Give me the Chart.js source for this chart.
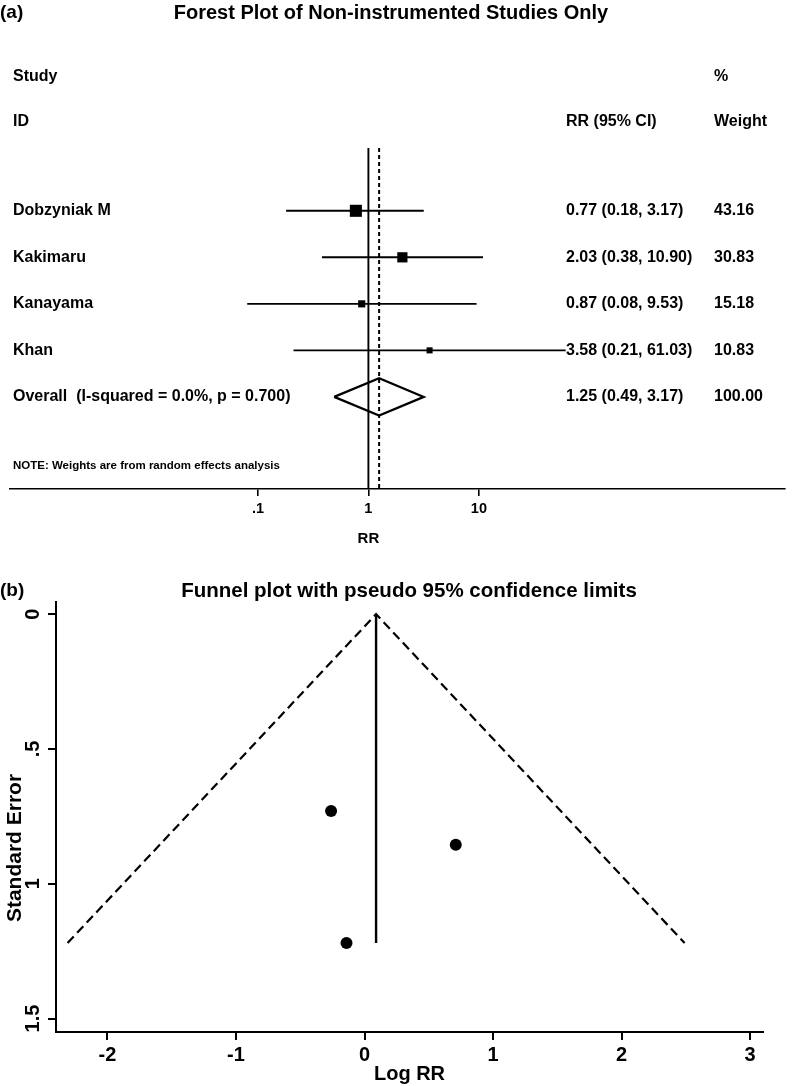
<!DOCTYPE html>
<html>
<head>
<meta charset="utf-8">
<title>Forest plot and funnel plot</title>
<script src="https://cdn.jsdelivr.net/npm/chart.js@4.4.0/dist/chart.umd.min.js"></script>
<style>
  html, body { margin: 0; padding: 0; background: #fff; }
  #wrap { position: relative; width: 797px; height: 1086px; }
  canvas { position: absolute; left: 0; }
  #forestCanvas { top: 0; }
  #funnelCanvas { top: 560px; }
</style>
</head>
<body>
<div id="wrap">
  <canvas id="forestCanvas" width="797" height="560"></canvas>
  <canvas id="funnelCanvas" width="797" height="526"></canvas>
</div>
<script>
// --- forest plot data
var studies = ['Dobzyniak M', 'Kakimaru', 'Kanayama', 'Khan'];
var rr = [0.77, 2.03, 0.87, 3.58];
var rrLow = [0.18, 0.38, 0.08, 0.21];
var rrHigh = [3.17, 10.90, 9.53, 61.03];
var weights = [43.16, 30.83, 15.18, 10.83];
var overallLabel = 'Overall  (I-squared = 0.0%, p = 0.700)';
var overallRR = 1.25;
var overallLow = 0.49;
var overallHigh = 3.17;
var overallWeight = 100.00;
var forestTicks = [0.1, 1, 10];
var forestTickLabels = ['.1', '1', '10'];

// --- funnel plot data
var funnelLogRR = [-0.26, 0.71, -0.14];
var funnelSE = [0.73, 0.855, 1.22];
var pooledLogRR = 0.09;
var limitLogRR = [-2.31, 0.09, 2.49];
var limitSE = [1.22, 0, 1.22];
var funnelXTicks = [-2, -1, 0, 1, 2, 3];
var funnelYTicks = [0, 0.5, 1, 1.5];
var funnelYTickLabels = ['0', '.5', '1', '1.5'];

var FONT = "'Liberation Sans', Arial, Helvetica, sans-serif";
Chart.defaults.font.family = FONT;
Chart.defaults.color = '#000';

function fmt(v) { return v.toFixed(2); }

// ---------- forest plot ----------
var rowTop = -0.35, rowBottom = 6.98;
var forestSets = [];

// boxes, area follows weight
forestSets.push({
  data: studies.map(function (s, i) { return { x: rr[i], y: i + 1 }; }),
  pointStyle: 'rect',
  pointRadius: weights.map(function (w) { return Math.sqrt(w) * 1.3; }),
  backgroundColor: '#000', borderColor: '#000', borderWidth: 0,
  showLine: false, order: 0
});
// confidence intervals
studies.forEach(function (s, i) {
  forestSets.push({
    data: [{ x: rrLow[i], y: i + 1 }, { x: rrHigh[i], y: i + 1 }],
    showLine: true, borderColor: '#000', borderWidth: 1.9, pointRadius: 0, order: 1
  });
});
// overall diamond
var ovRow = studies.length + 1;
forestSets.push({
  data: [
    { x: overallLow, y: ovRow }, { x: overallRR, y: ovRow - 0.4 },
    { x: overallHigh, y: ovRow }, { x: overallRR, y: ovRow + 0.4 },
    { x: overallLow, y: ovRow }
  ],
  showLine: true, fill: false, borderColor: '#000', borderWidth: 2.2, pointRadius: 0, order: 1
});
// no-effect line and overall line
forestSets.push({
  data: [{ x: 1, y: rowTop }, { x: 1, y: rowBottom }],
  showLine: true, borderColor: '#000', borderWidth: 1.9, pointRadius: 0, order: 2
});
forestSets.push({
  data: [{ x: overallRR, y: rowTop }, { x: overallRR, y: rowBottom }],
  showLine: true, borderColor: '#000', borderWidth: 2, borderDash: [4, 3], pointRadius: 0, order: 2
});

var forestText = {
  id: 'forestText',
  afterDraw: function (chart) {
    var ctx = chart.ctx;
    var ys = chart.scales.y;
    ctx.save();
    ctx.fillStyle = '#000';
    ctx.textBaseline = 'middle';
    ctx.textAlign = 'left';
    ctx.font = 'bold 19px ' + FONT;
    ctx.fillText('(a)', 0, 13);
    ctx.textAlign = 'center';
    ctx.font = 'bold 20px ' + FONT;
    ctx.fillText('Forest Plot of Non-instrumented Studies Only', 391, 13);
    // axis title sits under the no-effect line
    ctx.font = 'bold 15px ' + FONT;
    ctx.fillText('RR', chart.scales.x.getPixelForValue(1), 539);

    ctx.textAlign = 'left';
    ctx.font = 'bold 16px ' + FONT;
    var yStudy = ys.getPixelForValue(-1.88);
    var yId = ys.getPixelForValue(-0.91);
    ctx.fillText('Study', 13, yStudy);
    ctx.fillText('%', 714, yStudy);
    ctx.fillText('ID', 13, yId);
    ctx.fillText('RR (95% CI)', 566, yId);
    ctx.fillText('Weight', 714, yId);

    studies.forEach(function (s, i) {
      var py = ys.getPixelForValue(i + 1);
      ctx.fillText(s, 13, py);
      ctx.fillText(fmt(rr[i]) + ' (' + fmt(rrLow[i]) + ', ' + fmt(rrHigh[i]) + ')', 566, py);
      ctx.fillText(fmt(weights[i]), 714, py);
    });
    var po = ys.getPixelForValue(ovRow);
    ctx.fillText(overallLabel, 13, po);
    ctx.fillText(fmt(overallRR) + ' (' + fmt(overallLow) + ', ' + fmt(overallHigh) + ')', 566, po);
    ctx.fillText(fmt(overallWeight), 714, po);

    ctx.font = 'bold 11.5px ' + FONT;
    ctx.fillText('NOTE: Weights are from random effects analysis', 13, ys.getPixelForValue(6.48));
    ctx.restore();
  }
};

new Chart(document.getElementById('forestCanvas'), {
  type: 'scatter',
  data: { datasets: forestSets },
  options: {
    responsive: false, animation: false, devicePixelRatio: 1,
    layout: { padding: { left: 10, right: 12, top: 148, bottom: 0 } },
    plugins: { legend: { display: false }, tooltip: { enabled: false } },
    scales: {
      x: {
        type: 'logarithmic', min: 0.00057, max: 5900,
        afterBuildTicks: function (s) { s.ticks = forestTicks.map(function (v) { return { value: v }; }); },
        afterFit: function (s) { s.height = 71; },
        ticks: {
          autoSkip: false, maxRotation: 0, padding: 4, color: '#000',
          font: { size: 14.5, weight: 'bold' },
          callback: function (v) { var k = forestTicks.indexOf(v); return k < 0 ? '' : forestTickLabels[k]; }
        },
        grid: { drawOnChartArea: false, drawTicks: true, tickLength: 7, color: '#000', lineWidth: 1.6 },
        border: { display: true, color: '#000', width: 1.6 }
      },
      y: { type: 'linear', display: false, reverse: true, min: rowTop, max: rowBottom }
    }
  },
  plugins: [forestText]
});

// ---------- funnel plot ----------
var funnelText = {
  id: 'funnelText',
  afterDraw: function (chart) {
    var ctx = chart.ctx;
    ctx.save();
    ctx.fillStyle = '#000';
    ctx.textBaseline = 'middle';
    ctx.textAlign = 'left';
    ctx.font = 'bold 19px ' + FONT;
    ctx.fillText('(b)', 0, 31);
    ctx.textAlign = 'center';
    ctx.font = 'bold 20.5px ' + FONT;
    ctx.fillText('Funnel plot with pseudo 95% confidence limits', 409, 31);
    // y axis title
    ctx.translate(15, 288);
    ctx.rotate(-Math.PI / 2);
    ctx.font = 'bold 21px ' + FONT;
    ctx.fillText('Standard Error', 0, 0);
    ctx.restore();
  }
};

new Chart(document.getElementById('funnelCanvas'), {
  type: 'scatter',
  data: {
    datasets: [
      {
        data: funnelLogRR.map(function (v, i) { return { x: v, y: funnelSE[i] }; }),
        pointRadius: 6, pointStyle: 'circle', backgroundColor: '#000', borderColor: '#000', borderWidth: 0,
        showLine: false, order: 0
      },
      {
        data: limitLogRR.map(function (v, i) { return { x: v, y: limitSE[i] }; }),
        showLine: true, borderColor: '#000', borderWidth: 2.2, borderDash: [9, 5], pointRadius: 0, order: 1
      },
      {
        data: [{ x: pooledLogRR, y: 0 }, { x: pooledLogRR, y: limitSE[0] }],
        showLine: true, borderColor: '#000', borderWidth: 2.4, pointRadius: 0, order: 1
      }
    ]
  },
  options: {
    responsive: false, animation: false, devicePixelRatio: 1,
    layout: { padding: { left: 0, right: 34, top: 42, bottom: 0 } },
    plugins: { legend: { display: false }, tooltip: { enabled: false } },
    scales: {
      x: {
        type: 'linear', min: -2.4, max: 3.1,
        afterBuildTicks: function (s) { s.ticks = funnelXTicks.map(function (v) { return { value: v }; }); },
        afterFit: function (s) { s.height = 54; },
        ticks: { autoSkip: false, maxRotation: 0, padding: 3, color: '#000', font: { size: 20, weight: 'bold' } },
        grid: { drawOnChartArea: false, drawTicks: true, tickLength: 8, color: '#000', lineWidth: 2 },
        border: { display: true, color: '#000', width: 2 },
        title: { display: true, text: 'Log RR', color: '#000', font: { size: 20, weight: 'bold' }, padding: { top: 0, bottom: 0 } }
      },
      y: {
        type: 'linear', reverse: true, min: -0.045, max: 1.55,
        afterBuildTicks: function (s) { s.ticks = funnelYTicks.map(function (v) { return { value: v }; }); },
        afterFit: function (s) { s.width = 56; },
        ticks: {
          autoSkip: false, minRotation: 90, maxRotation: 90, crossAlign: 'center', padding: 1, color: '#000',
          font: { size: 20, weight: 'bold' },
          callback: function (v) { var k = funnelYTicks.indexOf(v); return k < 0 ? '' : funnelYTickLabels[k]; }
        },
        grid: { drawOnChartArea: false, drawTicks: true, tickLength: 8, color: '#000', lineWidth: 2 },
        border: { display: true, color: '#000', width: 2 }
      }
    }
  },
  plugins: [funnelText]
});
</script>
</body>
</html>
